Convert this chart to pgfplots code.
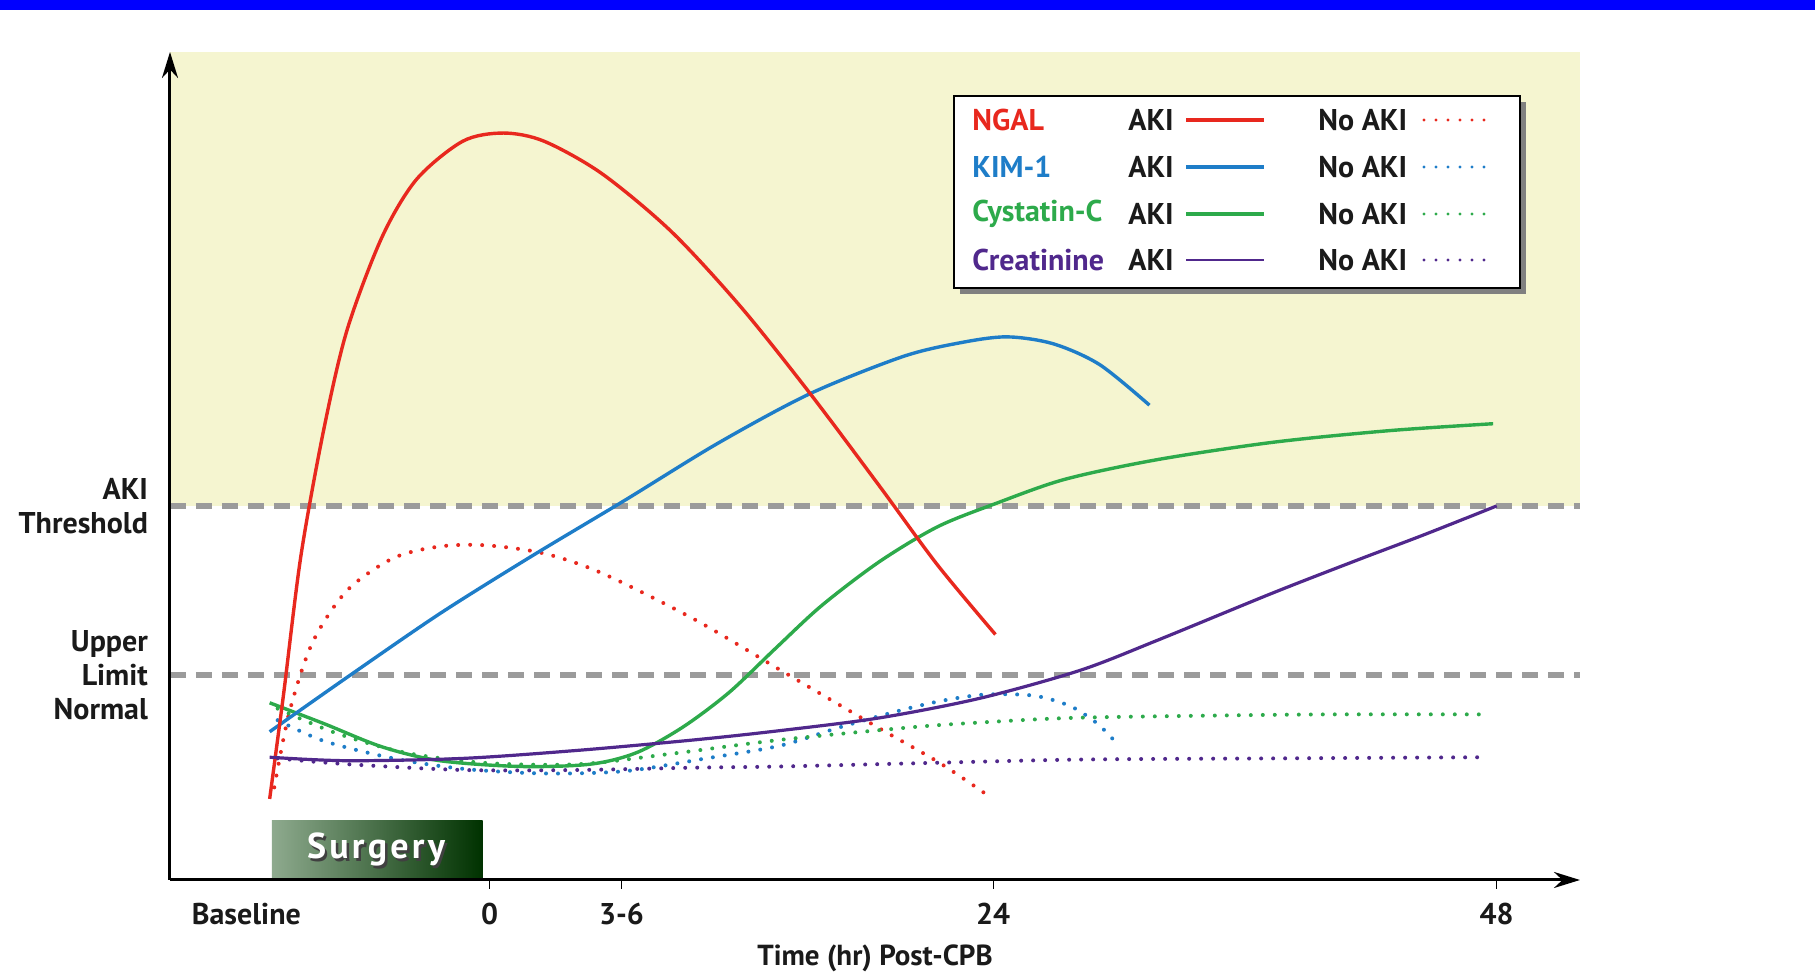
\documentclass[border=0pt]{standalone}
\usepackage{fontspec}
\setmainfont{PT Sans}
\usepackage{pgfplots}
\pgfplotsset{compat=1.18}
\usetikzlibrary{arrows.meta}

\definecolor{ngal}{HTML}{E8281E}
\definecolor{kim}{HTML}{1E7DC8}
\definecolor{cys}{HTML}{2DAA4B}
\definecolor{crea}{HTML}{50288C}
\definecolor{bgyellow}{HTML}{F5F5D0}
\definecolor{refgray}{HTML}{9B9B9B}
\definecolor{txt}{HTML}{1A1A1A}
\definecolor{surgL}{HTML}{8EAA8E}
\definecolor{surgR}{HTML}{003200}
\definecolor{topbar}{HTML}{0000FF}

\newcommand\lbl{\fontsize{15}{17}\selectfont\bfseries}

\tikzset{
  aki/.style={line width=1.7pt},
  noaki/.style={line width=2pt, line cap=round, dash pattern=on 0pt off 6pt},
}

\begin{document}
\begin{tikzpicture}
\path[use as bounding box] (0pt,0pt) rectangle (907.5pt,486pt);

\begin{axis}[
  at={(85pt,46pt)}, anchor=south west,
  scale only axis, width=705pt, height=414pt,
  xmin=-15.23, xmax=51.97, ymin=0, ymax=715,
  axis x line=bottom, axis y line=left,
  axis line style={line width=1.5pt, black, -{Stealth[length=13pt,width=8pt]}},
  axis on top, clip=false,
  xtick={0,6.29,24,48}, xticklabels={0,3-6,24,48},
  extra x ticks={-11.59}, extra x tick labels={Baseline},
  extra x tick style={major tick style={draw=none}},
  tick align=outside, major tick length=4.5pt,
  x tick style={line width=0.6pt, black},
  xticklabel style={font=\lbl, text=txt, yshift=-3.5pt},
  ytick={177,323},
  yticklabels={{Upper\\Limit\\Normal},{AKI\\Threshold}},
  y tick style={draw=none},
  yticklabel style={align=right, font=\lbl, text=txt, xshift=-3pt},
  xlabel={Time (hr) Post-CPB},
  xlabel style={font=\fontsize{14.5}{16}\selectfont\bfseries, text=txt,
    at={(axis description cs:0.5,0)}, anchor=north, yshift=-29pt},
]

% region above the AKI threshold
\fill[bgyellow] (axis cs:-15.23,323) rectangle (axis cs:51.97,715);

% reference levels
\addplot[refgray, line width=2.6pt, dash pattern=on 8pt off 5pt] coordinates {(-15.23,323) (51.97,323)};
\addplot[refgray, line width=2.6pt, dash pattern=on 8pt off 5pt] coordinates {(-15.23,177) (51.97,177)};

% surgery period
\shade[left color=surgL, right color=surgR] (axis cs:-10.37,0) rectangle (axis cs:-0.33,51);
\node[font=\fontsize{18}{20}\selectfont\bfseries\addfontfeature{LetterSpace=9}, text=black!75]
  at (axis cs:-5.41,26) [xshift=1.2pt, yshift=-1.2pt] {Surgery};
\node[font=\fontsize{18}{20}\selectfont\bfseries\addfontfeature{LetterSpace=9}, text=white]
  at (axis cs:-5.41,26) {Surgery};

% --- No AKI (dotted) ---
\addplot[ngal, noaki, smooth] coordinates {
  (-10.26,80) (-9.54,145) (-8.44,205) (-6.79,250) (-4.58,278) (-2.37,288)
  (-0.17,289) (2.59,282) (5.35,265) (9.77,225) (14.07,179) (18.48,132)
  (21.46,101) (23.83,72)};
\addplot[kim, noaki, smooth] coordinates {
  (-10.10,138) (-7.89,120) (-4.58,105) (-1.27,96) (2.59,92) (6.46,94)
  (10.32,105) (13.85,116) (16.72,132) (19.70,147) (21.63,155) (23.50,160)
  (25.43,160) (26.54,157) (27.81,149) (28.97,135) (29.79,120)};
\addplot[cys, noaki, smooth] coordinates {
  (-10.10,148) (-7.34,127) (-4.03,110) (-0.17,101) (4.25,100) (8.66,109)
  (13.85,121) (20.19,132) (23.39,136) (27.81,140) (34.59,142) (40.11,143)
  (47.45,143)};
\addplot[crea, noaki, smooth] coordinates {
  (-10.10,105) (-6.79,100) (-1.27,95) (4.25,95) (9.77,97) (13.85,98)
  (20.80,101) (28.14,104) (37.35,105) (47.45,106)};

% --- AKI (solid) ---
\addplot[cys, aki, smooth] coordinates {
  (-10.48,153) (-7.89,135) (-5.13,115) (-2.37,103) (1.49,98) (4.80,100)
  (7.01,110) (9.21,132) (11.42,162) (13.63,200) (15.83,237) (18.59,275)
  (21.35,305) (24.11,325) (27.42,346) (31.83,363) (37.35,378) (42.87,388)
  (47.83,394)};
\addplot[kim, aki, smooth] coordinates {
  (-10.48,128) (-6.79,175) (-2.37,230) (2.04,280) (6.46,328) (10.87,377)
  (15.28,420) (19.70,452) (22.46,464) (24.66,469) (26.87,463) (29.08,445)
  (31.45,410)};
\addplot[ngal, aki, smooth] coordinates {
  (-10.48,70) (-9.82,160) (-8.99,280) (-7.89,390) (-6.79,475) (-5.13,555)
  (-3.48,605) (-1.27,638) (0.66,645) (2.59,638) (5.35,610) (8.66,560)
  (11.97,495) (15.28,420) (18.59,340) (21.35,272) (24.11,212)};
\addplot[crea, aki, line width=1.6pt, smooth] coordinates {
  (-10.48,106) (-6.79,103) (-1.27,105) (4.25,112) (9.77,121) (13.85,129)
  (18.59,140) (23.39,157) (28.14,181) (31.83,207) (37.35,248) (41.32,276)
  (44.52,298) (48.00,323)};
\end{axis}

\begin{scope}[x=0.5pt, y=0.5pt]
\fill[topbar] (0,962) rectangle (1815,972);

% key
\fill[black!50] (960,678) rectangle (1526,870);
\filldraw[fill=white, draw=black, line width=0.9pt] (954,684) rectangle (1520,876);
\begin{scope}[every node/.style={font=\lbl, anchor=west, inner sep=0pt}]
  \node[text=ngal] at (972,852) {NGAL};
  \node[text=kim]  at (972,805) {KIM-1};
  \node[text=cys]  at (972,758) {Cystatin-C};
  \node[text=crea] at (972,712) {Creatinine};
  \foreach \yy in {852,805,758,712} {
    \node[text=txt] at (1128,\yy) {AKI};
    \node[text=txt] at (1318,\yy) {No AKI};
  }
\end{scope}
\draw[ngal, line width=2.2pt] (1186,852) -- (1264,852);
\draw[kim,  line width=2.2pt] (1186,805) -- (1264,805);
\draw[cys,  line width=2.2pt] (1186,758) -- (1264,758);
\draw[crea, line width=1.3pt] (1186,712) -- (1264,712);
\draw[ngal, noaki, line width=1.6pt] (1424,852) -- (1494,852);
\draw[kim,  noaki, line width=1.6pt] (1424,805) -- (1494,805);
\draw[cys,  noaki, line width=1.6pt] (1424,758) -- (1494,758);
\draw[crea, noaki, line width=1.6pt] (1424,712) -- (1494,712);
\end{scope}
\end{tikzpicture}
\end{document}
